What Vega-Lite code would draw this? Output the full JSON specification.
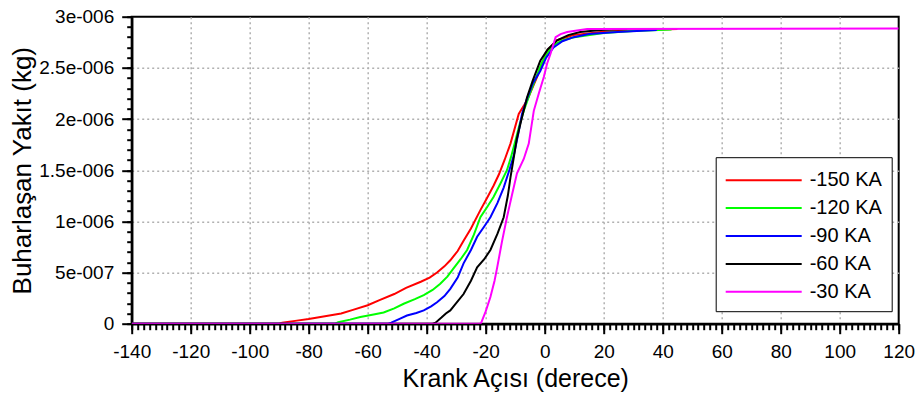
{
  "$schema": "https://vega.github.io/schema/vega-lite/v6.json",
  "width": 767,
  "height": 307,
  "autosize": "none",
  "padding": {"left": 131.7, "top": 16.7, "right": 16.6, "bottom": 72.6},
  "background": "white",
  "config": {
    "font": "Liberation Sans",
    "view": {"stroke": "black", "strokeWidth": 2},
    "axis": {
      "labelColor": "black",
      "labelFontSize": 19,
      "titleColor": "black",
      "titleFontWeight": "normal"
    }
  },
  "data": {
    "values": [
      {"series": "-150 KA", "angle": -140, "fuel": 0},
      {"series": "-150 KA", "angle": -90, "fuel": 0},
      {"series": "-150 KA", "angle": -89, "fuel": 1e-8},
      {"series": "-150 KA", "angle": -84, "fuel": 3e-8},
      {"series": "-150 KA", "angle": -80, "fuel": 4.5e-8},
      {"series": "-150 KA", "angle": -77, "fuel": 6e-8},
      {"series": "-150 KA", "angle": -73, "fuel": 8e-8},
      {"series": "-150 KA", "angle": -69, "fuel": 1e-7},
      {"series": "-150 KA", "angle": -65, "fuel": 1.35e-7},
      {"series": "-150 KA", "angle": -60, "fuel": 1.8e-7},
      {"series": "-150 KA", "angle": -56, "fuel": 2.3e-7},
      {"series": "-150 KA", "angle": -51, "fuel": 2.9e-7},
      {"series": "-150 KA", "angle": -47, "fuel": 3.5e-7},
      {"series": "-150 KA", "angle": -42, "fuel": 4.1e-7},
      {"series": "-150 KA", "angle": -39, "fuel": 4.5e-7},
      {"series": "-150 KA", "angle": -36.5, "fuel": 5e-7},
      {"series": "-150 KA", "angle": -34, "fuel": 5.6e-7},
      {"series": "-150 KA", "angle": -32, "fuel": 6.2e-7},
      {"series": "-150 KA", "angle": -29.5, "fuel": 7.1e-7},
      {"series": "-150 KA", "angle": -27.5, "fuel": 8.1e-7},
      {"series": "-150 KA", "angle": -25, "fuel": 9.3e-7},
      {"series": "-150 KA", "angle": -21.8, "fuel": 1.11e-6},
      {"series": "-150 KA", "angle": -19.5, "fuel": 1.23e-6},
      {"series": "-150 KA", "angle": -17.3, "fuel": 1.35e-6},
      {"series": "-150 KA", "angle": -15.5, "fuel": 1.46e-6},
      {"series": "-150 KA", "angle": -13.6, "fuel": 1.6e-6},
      {"series": "-150 KA", "angle": -11.6, "fuel": 1.76e-6},
      {"series": "-150 KA", "angle": -8.8, "fuel": 2.05e-6},
      {"series": "-150 KA", "angle": -6, "fuel": 2.18e-6},
      {"series": "-150 KA", "angle": -2.6, "fuel": 2.41e-6},
      {"series": "-150 KA", "angle": 0.8, "fuel": 2.67e-6},
      {"series": "-150 KA", "angle": 4.2, "fuel": 2.77e-6},
      {"series": "-150 KA", "angle": 9.7, "fuel": 2.82e-6},
      {"series": "-150 KA", "angle": 19, "fuel": 2.85e-6},
      {"series": "-150 KA", "angle": 28, "fuel": 2.865e-6},
      {"series": "-150 KA", "angle": 45, "fuel": 2.88e-6},

      {"series": "-120 KA", "angle": -140, "fuel": 0},
      {"series": "-120 KA", "angle": -71, "fuel": 0},
      {"series": "-120 KA", "angle": -70, "fuel": 1.5e-8},
      {"series": "-120 KA", "angle": -66, "fuel": 4e-8},
      {"series": "-120 KA", "angle": -62.5, "fuel": 6.5e-8},
      {"series": "-120 KA", "angle": -58, "fuel": 9e-8},
      {"series": "-120 KA", "angle": -54.6, "fuel": 1.1e-7},
      {"series": "-120 KA", "angle": -51, "fuel": 1.5e-7},
      {"series": "-120 KA", "angle": -47.8, "fuel": 1.95e-7},
      {"series": "-120 KA", "angle": -44, "fuel": 2.4e-7},
      {"series": "-120 KA", "angle": -41, "fuel": 2.8e-7},
      {"series": "-120 KA", "angle": -38, "fuel": 3.3e-7},
      {"series": "-120 KA", "angle": -35.4, "fuel": 3.9e-7},
      {"series": "-120 KA", "angle": -33, "fuel": 4.6e-7},
      {"series": "-120 KA", "angle": -30.9, "fuel": 5.4e-7},
      {"series": "-120 KA", "angle": -28.5, "fuel": 6.3e-7},
      {"series": "-120 KA", "angle": -26.3, "fuel": 7.2e-7},
      {"series": "-120 KA", "angle": -24, "fuel": 8.7e-7},
      {"series": "-120 KA", "angle": -21.8, "fuel": 1.04e-6},
      {"series": "-120 KA", "angle": -19.5, "fuel": 1.14e-6},
      {"series": "-120 KA", "angle": -17.3, "fuel": 1.24e-6},
      {"series": "-120 KA", "angle": -15, "fuel": 1.37e-6},
      {"series": "-120 KA", "angle": -12.8, "fuel": 1.5e-6},
      {"series": "-120 KA", "angle": -11.5, "fuel": 1.62e-6},
      {"series": "-120 KA", "angle": -10, "fuel": 1.78e-6},
      {"series": "-120 KA", "angle": -8.5, "fuel": 1.95e-6},
      {"series": "-120 KA", "angle": -7.1, "fuel": 2.08e-6},
      {"series": "-120 KA", "angle": -5, "fuel": 2.25e-6},
      {"series": "-120 KA", "angle": -3, "fuel": 2.4e-6},
      {"series": "-120 KA", "angle": -1, "fuel": 2.55e-6},
      {"series": "-120 KA", "angle": 1, "fuel": 2.65e-6},
      {"series": "-120 KA", "angle": 3, "fuel": 2.72e-6},
      {"series": "-120 KA", "angle": 6, "fuel": 2.77e-6},
      {"series": "-120 KA", "angle": 10, "fuel": 2.8e-6},
      {"series": "-120 KA", "angle": 20, "fuel": 2.84e-6},
      {"series": "-120 KA", "angle": 30, "fuel": 2.86e-6},
      {"series": "-120 KA", "angle": 43, "fuel": 2.875e-6},

      {"series": "-90 KA", "angle": -140, "fuel": 0},
      {"series": "-90 KA", "angle": -53, "fuel": 0},
      {"series": "-90 KA", "angle": -52, "fuel": 1e-8},
      {"series": "-90 KA", "angle": -49, "fuel": 5e-8},
      {"series": "-90 KA", "angle": -46.7, "fuel": 8e-8},
      {"series": "-90 KA", "angle": -43.5, "fuel": 1.05e-7},
      {"series": "-90 KA", "angle": -41, "fuel": 1.3e-7},
      {"series": "-90 KA", "angle": -38.5, "fuel": 1.7e-7},
      {"series": "-90 KA", "angle": -36.5, "fuel": 2.1e-7},
      {"series": "-90 KA", "angle": -34, "fuel": 2.7e-7},
      {"series": "-90 KA", "angle": -32, "fuel": 3.4e-7},
      {"series": "-90 KA", "angle": -29.5, "fuel": 4.5e-7},
      {"series": "-90 KA", "angle": -27.5, "fuel": 5.9e-7},
      {"series": "-90 KA", "angle": -25, "fuel": 7.2e-7},
      {"series": "-90 KA", "angle": -22.9, "fuel": 8.5e-7},
      {"series": "-90 KA", "angle": -20.5, "fuel": 9.5e-7},
      {"series": "-90 KA", "angle": -18.4, "fuel": 1.04e-6},
      {"series": "-90 KA", "angle": -16, "fuel": 1.18e-6},
      {"series": "-90 KA", "angle": -13.9, "fuel": 1.33e-6},
      {"series": "-90 KA", "angle": -12, "fuel": 1.5e-6},
      {"series": "-90 KA", "angle": -10.5, "fuel": 1.64e-6},
      {"series": "-90 KA", "angle": -9, "fuel": 1.85e-6},
      {"series": "-90 KA", "angle": -7.7, "fuel": 2.05e-6},
      {"series": "-90 KA", "angle": -6, "fuel": 2.2e-6},
      {"series": "-90 KA", "angle": -4, "fuel": 2.35e-6},
      {"series": "-90 KA", "angle": -1.5, "fuel": 2.47e-6},
      {"series": "-90 KA", "angle": 0.5, "fuel": 2.6e-6},
      {"series": "-90 KA", "angle": 3, "fuel": 2.7e-6},
      {"series": "-90 KA", "angle": 6, "fuel": 2.76e-6},
      {"series": "-90 KA", "angle": 9.8, "fuel": 2.8e-6},
      {"series": "-90 KA", "angle": 15, "fuel": 2.83e-6},
      {"series": "-90 KA", "angle": 24.6, "fuel": 2.85e-6},
      {"series": "-90 KA", "angle": 38, "fuel": 2.87e-6},

      {"series": "-60 KA", "angle": -140, "fuel": 0},
      {"series": "-60 KA", "angle": -38, "fuel": 0},
      {"series": "-60 KA", "angle": -37, "fuel": 1e-8},
      {"series": "-60 KA", "angle": -35, "fuel": 6e-8},
      {"series": "-60 KA", "angle": -33.5, "fuel": 1e-7},
      {"series": "-60 KA", "angle": -32, "fuel": 1.3e-7},
      {"series": "-60 KA", "angle": -30, "fuel": 2e-7},
      {"series": "-60 KA", "angle": -27.5, "fuel": 2.9e-7},
      {"series": "-60 KA", "angle": -25, "fuel": 4.2e-7},
      {"series": "-60 KA", "angle": -22.9, "fuel": 5.5e-7},
      {"series": "-60 KA", "angle": -20.5, "fuel": 6.3e-7},
      {"series": "-60 KA", "angle": -18.4, "fuel": 7.2e-7},
      {"series": "-60 KA", "angle": -16, "fuel": 8.8e-7},
      {"series": "-60 KA", "angle": -13.9, "fuel": 1.04e-6},
      {"series": "-60 KA", "angle": -12.5, "fuel": 1.25e-6},
      {"series": "-60 KA", "angle": -11.6, "fuel": 1.43e-6},
      {"series": "-60 KA", "angle": -10.5, "fuel": 1.62e-6},
      {"series": "-60 KA", "angle": -9.5, "fuel": 1.8e-6},
      {"series": "-60 KA", "angle": -8, "fuel": 1.98e-6},
      {"series": "-60 KA", "angle": -6, "fuel": 2.21e-6},
      {"series": "-60 KA", "angle": -4, "fuel": 2.38e-6},
      {"series": "-60 KA", "angle": -1.5, "fuel": 2.57e-6},
      {"series": "-60 KA", "angle": 1, "fuel": 2.68e-6},
      {"series": "-60 KA", "angle": 4.2, "fuel": 2.77e-6},
      {"series": "-60 KA", "angle": 8, "fuel": 2.82e-6},
      {"series": "-60 KA", "angle": 12, "fuel": 2.85e-6},
      {"series": "-60 KA", "angle": 19, "fuel": 2.87e-6},
      {"series": "-60 KA", "angle": 28, "fuel": 2.88e-6},

      {"series": "-30 KA", "angle": -140, "fuel": 0},
      {"series": "-30 KA", "angle": -22, "fuel": 0},
      {"series": "-30 KA", "angle": -21.5, "fuel": 1e-8},
      {"series": "-30 KA", "angle": -20, "fuel": 1.2e-7},
      {"series": "-30 KA", "angle": -18.4, "fuel": 2.6e-7},
      {"series": "-30 KA", "angle": -17, "fuel": 4.2e-7},
      {"series": "-30 KA", "angle": -16.1, "fuel": 5.5e-7},
      {"series": "-30 KA", "angle": -14.5, "fuel": 8e-7},
      {"series": "-30 KA", "angle": -12.8, "fuel": 1.04e-6},
      {"series": "-30 KA", "angle": -11, "fuel": 1.27e-6},
      {"series": "-30 KA", "angle": -9.4, "fuel": 1.47e-6},
      {"series": "-30 KA", "angle": -7.1, "fuel": 1.61e-6},
      {"series": "-30 KA", "angle": -5.4, "fuel": 1.76e-6},
      {"series": "-30 KA", "angle": -3.7, "fuel": 2.08e-6},
      {"series": "-30 KA", "angle": -2, "fuel": 2.25e-6},
      {"series": "-30 KA", "angle": -0.3, "fuel": 2.41e-6},
      {"series": "-30 KA", "angle": 0.8, "fuel": 2.54e-6},
      {"series": "-30 KA", "angle": 2, "fuel": 2.64e-6},
      {"series": "-30 KA", "angle": 3.7, "fuel": 2.8e-6},
      {"series": "-30 KA", "angle": 5.4, "fuel": 2.83e-6},
      {"series": "-30 KA", "angle": 7.6, "fuel": 2.85e-6},
      {"series": "-30 KA", "angle": 12.1, "fuel": 2.87e-6},
      {"series": "-30 KA", "angle": 14.4, "fuel": 2.88e-6},
      {"series": "-30 KA", "angle": 120, "fuel": 2.885e-6}
    ]
  },
  "resolve": {"axis": {"x": "independent", "y": "independent"}},
  "layer": [
    {
      "mark": {"type": "line", "strokeWidth": 2, "opacity": 0},
      "encoding": {
        "x": {
          "field": "angle",
          "type": "quantitative",
          "scale": {"domain": [-140, 120], "nice": false, "zero": false},
          "axis": {
            "orient": "bottom",
            "title": null,
            "values": [-140,-138,-136,-134,-132,-130,-128,-126,-124,-122,-120,-118,-116,-114,-112,-110,-108,-106,-104,-102,-100,-98,-96,-94,-92,-90,-88,-86,-84,-82,-80,-78,-76,-74,-72,-70,-68,-66,-64,-62,-60,-58,-56,-54,-52,-50,-48,-46,-44,-42,-40,-38,-36,-34,-32,-30,-28,-26,-24,-22,-20,-18,-16,-14,-12,-10,-8,-6,-4,-2,0,2,4,6,8,10,12,14,16,18,20,22,24,26,28,30,32,34,36,38,40,42,44,46,48,50,52,54,56,58,60,62,64,66,68,70,72,74,76,78,80,82,84,86,88,90,92,94,96,98,100,102,104,106,108,110,112,114,116,118,120],
            "labels": false,
            "domain": false,
            "grid": false,
            "ticks": true,
            "tickSize": 6,
            "tickWidth": 2,
            "tickColor": "black"
          }
        },
        "y": {
          "field": "fuel",
          "type": "quantitative",
          "scale": {"domain": [0, 3e-6], "nice": false},
          "axis": {
            "orient": "left",
            "title": null,
            "values": [0,1e-7,2e-7,3e-7,4e-7,5e-7,6e-7,7e-7,8e-7,9e-7,1e-6,1.1e-6,1.2e-6,1.3e-6,1.4e-6,1.5e-6,1.6e-6,1.7e-6,1.8e-6,1.9e-6,2e-6,2.1e-6,2.2e-6,2.3e-6,2.4e-6,2.5e-6,2.6e-6,2.7e-6,2.8e-6,2.9e-6,3e-6],
            "labels": false,
            "domain": false,
            "grid": false,
            "ticks": true,
            "tickSize": 5,
            "tickWidth": 2,
            "tickColor": "black"
          }
        }
      }
    },
    {
      "mark": {"type": "line", "strokeWidth": 2, "clip": true},
      "encoding": {
        "x": {
          "field": "angle",
          "type": "quantitative",
          "scale": {"domain": [-140, 120], "nice": false, "zero": false},
          "axis": {
            "orient": "bottom",
            "title": "Krank Açısı (derece)",
            "titleFontSize": 25,
            "values": [-140,-120,-100,-80,-60,-40,-20,0,20,40,60,80,100,120],
            "labelExpr": "'' + datum.value",
            "ticks": true,
            "tickSize": 10,
            "tickWidth": 2,
            "tickColor": "black",
            "domainColor": "black",
            "domainWidth": 2.5,
            "grid": true,
            "gridColor": "#b0b0b0",
            "gridDash": [2, 3],
            "gridWidth": 1.5,
            "gridOpacity": {"condition": {"test": "datum.value > -140 && datum.value < 120", "value": 1}, "value": 0},
            "labelPadding": 9,
            "labelFlush": false,
            "labelOverlap": false,
            "titlePadding": 5
          }
        },
        "y": {
          "field": "fuel",
          "type": "quantitative",
          "scale": {"domain": [0, 3e-6], "nice": false},
          "axis": {
            "orient": "left",
            "title": "Buharlaşan Yakıt (kg)",
            "titleFontSize": 26,
            "values": [0,5e-7,1e-6,1.5e-6,2e-6,2.5e-6,3e-6],
            "labelExpr": "datum.value === 0 ? '0' : replace(format(datum.value, '~e'), 'e-', 'e-00')",
            "ticks": true,
            "tickSize": 10,
            "tickWidth": 2,
            "tickColor": "black",
            "domainColor": "black",
            "domainWidth": 2.5,
            "grid": true,
            "gridColor": "#b0b0b0",
            "gridDash": [2, 3],
            "gridWidth": 1.5,
            "gridOpacity": {"condition": {"test": "datum.value > 0 && datum.value < 2.9e-6", "value": 1}, "value": 0},
            "labelPadding": 8,
            "labelFlush": false,
            "labelOverlap": false,
            "titlePadding": 3
          }
        },
        "color": {
          "field": "series",
          "type": "nominal",
          "sort": ["-150 KA", "-120 KA", "-90 KA", "-60 KA", "-30 KA"],
          "scale": {
            "domain": ["-150 KA", "-120 KA", "-90 KA", "-60 KA", "-30 KA"],
            "range": ["#ff0000", "#00ff00", "#0000ff", "#000000", "#ff00ff"]
          },
          "legend": {
            "orient": "none",
            "legendX": 584,
            "legendY": 140.5,
            "title": null,
            "symbolType": "M-1,0H4.846",
            "symbolSize": 676,
            "symbolStrokeWidth": 2,
            "symbolFillColor": "transparent",
            "labelFontSize": 20,
            "labelColor": "black",
            "labelOffset": 57,
            "rowPadding": 3.9,
            "padding": 9,
            "strokeColor": "black",
            "fillColor": "white"
          }
        }
      }
    }
  ]
}
